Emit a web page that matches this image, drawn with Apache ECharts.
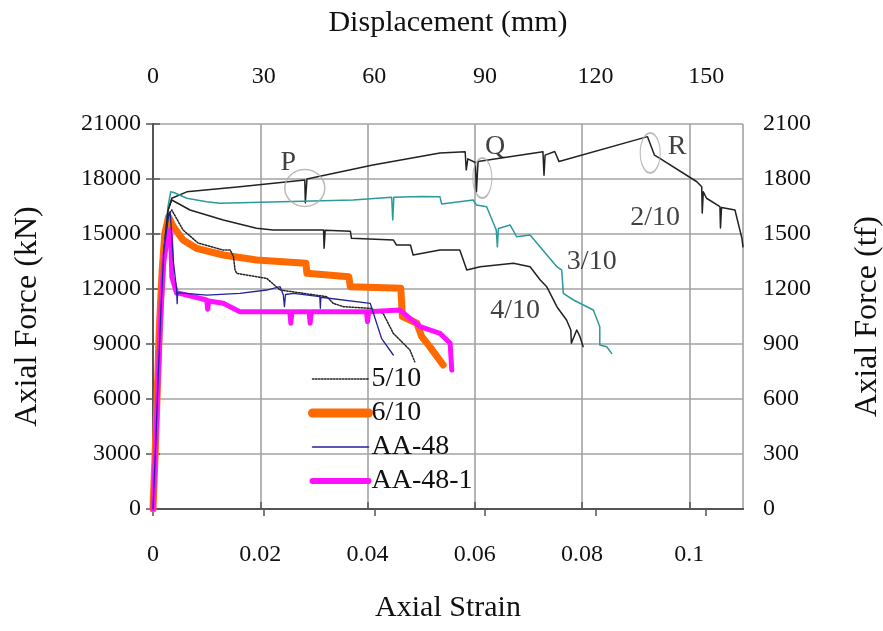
<!DOCTYPE html>
<html>
<head>
<meta charset="utf-8">
<script src="https://cdn.jsdelivr.net/npm/echarts@6/dist/echarts.min.js"></script>
<style>
  html, body { margin: 0; padding: 0; background: #fff; }
  #chart { width: 883px; height: 631px; }
</style>
</head>
<body>
<div id="chart"></div>
<script>
// Axial force vs. axial strain for columns under different axial load ratios
const FONT = 'Liberation Serif';

// ---- 2/10 ----
const strain2_10 = [0, 0.0005, 0.001, 0.0015, 0.002, 0.0028, 0.0035, 0.0063, 0.0162, 0.0283, 0.0284, 0.0286, 0.0287,
  0.041, 0.0535, 0.0582, 0.0584, 0.0587, 0.0601, 0.0603, 0.0606, 0.0727, 0.0729, 0.0731, 0.0749, 0.0757,
  0.0922, 0.0935, 0.0945, 0.1014, 0.1023, 0.1024, 0.1026, 0.1032, 0.1057, 0.1058, 0.1060, 0.1085, 0.1098, 0.11];
const force2_10 = [0, 3500, 7500, 11000, 14000, 16300, 16950, 17300, 17580, 17950, 16700, 16700, 18000,
  18760, 19420, 19490, 18500, 19100, 18900, 17300, 18950, 19490, 18200, 19300, 19500, 18950,
  20310, 19300, 19130, 17850, 17580, 16140, 17300, 16950, 16490, 15330, 16450, 16310, 14765, 14300];

// ---- 3/10 ----
const strain3_10 = [0, 0.0005, 0.001, 0.0015, 0.002, 0.0028, 0.0033, 0.0040, 0.0063, 0.0100, 0.0125, 0.0373,
  0.0445, 0.0447, 0.0449, 0.0500, 0.0535, 0.0538, 0.0541, 0.0597, 0.0603, 0.0622, 0.0640, 0.0642, 0.0644,
  0.0666, 0.0678, 0.0703, 0.0753, 0.0762, 0.0765, 0.0784, 0.0821, 0.0833, 0.0833, 0.0846, 0.0855];
const force3_10 = [0, 3500, 7500, 11000, 14000, 16500, 17300, 17250, 16950, 16760, 16675, 16855,
  17000, 15765, 17000, 17050, 17035, 16640, 16700, 16855, 16580, 16490, 15220, 14300, 15300,
  15490, 14850, 14945, 13215, 13035, 11765, 11400, 10855, 9945, 8945, 8853, 8490];

// ---- 4/10 ----
const strain4_10 = [0, 0.0005, 0.001, 0.0015, 0.002, 0.0028, 0.0035, 0.0069, 0.0131, 0.0193, 0.0224, 0.0318,
  0.0319, 0.0321, 0.0368, 0.0370, 0.0448, 0.0454, 0.0480, 0.0485, 0.0535, 0.0572, 0.0585, 0.061, 0.0672,
  0.0703, 0.0722, 0.0734, 0.0753, 0.0771, 0.0779, 0.0780, 0.0790, 0.0796, 0.0802];
const force4_10 = [0, 3500, 7500, 11000, 14000, 16300, 16855, 16310, 15765, 15310, 15220, 15220,
  14220, 15200, 15150, 14765, 14675, 14400, 14400, 13855, 14130, 14130, 13035, 13215, 13400,
  13215, 12490, 12125, 11035, 10310, 9765, 9040, 9765, 9400, 8855];

// ---- 5/10 ----
const strain5_10 = [0, 0.0005, 0.001, 0.0015, 0.002, 0.0028, 0.0035, 0.0056, 0.0084, 0.013, 0.0144, 0.015,
  0.0153, 0.0156, 0.0212, 0.0237, 0.0324, 0.0336, 0.0355, 0.0405, 0.0429, 0.0448, 0.0479, 0.0488];
const force5_10 = [0, 3500, 7500, 11000, 14000, 16000, 16310, 15220, 14510, 14130, 14130, 13765,
  13035, 12855, 12580, 11945, 11580, 11220, 11035, 10945, 10675, 9580, 8673, 8035];

// ---- 6/10 ----
const strain6_10 = [0, 0.0004, 0.0008, 0.0012, 0.0017, 0.0022, 0.0029, 0.0038, 0.0056, 0.0081, 0.0131, 0.0193,
  0.0285, 0.0287, 0.0365, 0.0368, 0.0462, 0.0465, 0.0492, 0.0501, 0.0516, 0.0541];
const force6_10 = [0, 3000, 6500, 10000, 13000, 15000, 15945, 15400, 14675, 14220, 13855, 13580,
  13400, 12855, 12670, 12125, 12035, 10490, 10130, 9400, 8855, 7855];

// ---- AA-48 ----
const strainAA48 = [0, 0.0005, 0.001, 0.0015, 0.002, 0.0028, 0.0032, 0.0038, 0.0044, 0.0045, 0.0046, 0.01,
  0.0162, 0.0212, 0.0237, 0.0243, 0.0245, 0.0247, 0.0262, 0.0311, 0.0312, 0.0313, 0.0405, 0.0411, 0.0426, 0.0448];
const forceAA48 = [0, 3500, 7500, 11000, 14000, 15800, 16220, 13500, 12000, 11200, 11800, 11670,
  11765, 11945, 12125, 11670, 11035, 11700, 11765, 11580, 10945, 11550, 11220, 10675, 9310, 8400];

// ---- AA-48-1 ----
const strainAA48_1 = [0, 0.0005, 0.001, 0.0015, 0.002, 0.0027, 0.0032, 0.0034, 0.0035, 0.0044, 0.005, 0.01,
  0.0102, 0.0104, 0.0131, 0.0162, 0.0255, 0.0257, 0.0259, 0.0291, 0.0293, 0.0295, 0.0398, 0.0400, 0.0402,
  0.046, 0.0498, 0.0535, 0.0554, 0.0557];
const forceAA48_1 = [0, 3500, 7500, 11000, 13500, 14800, 15220, 14000, 12670, 11765, 11765, 11400,
  10900, 11350, 11220, 10765, 10765, 10130, 10765, 10765, 10130, 10765, 10765, 10220, 10765,
  10855, 9945, 9580, 9040, 7580];

// Text notes on the curves
const noteText = ['P', 'Q', 'R', '2/10', '3/10', '4/10'];
const noteStrain = [0.0252, 0.0638, 0.0977, 0.0936, 0.0818, 0.0675];
const noteForce = [18870, 19745, 19745, 15870, 13470, 10800];

// Marked events (circled)
const eventStrain = [0.0283, 0.0614, 0.0927];
const eventForce = [17510, 18055, 19420];

// Axis settings
const strainTicks = { min: 0, max: 0.11, step: 0.02 };
const dispTicks = { min: 0, max: 160, step: 30 };
const kNTicks = { min: 0, max: 21000, step: 3000 };
const tfTicks = { min: 0, max: 2100, step: 300 };

const zip = (xs, ys) => xs.map((x, i) => [x, ys[i]]);

const labelStyle = { fontFamily: FONT, fontSize: 24, color: '#111' };
const nameStyle = { fontFamily: FONT, fontSize: 30, color: '#111' };
const sideNameStyle = { fontFamily: FONT, fontSize: 32, color: '#111' };
const frameLine = { show: true, lineStyle: { color: '#555', width: 2 } };
const inTicks = { show: true, inside: true, length: 7, lineStyle: { color: '#555', width: 1.5 } };
const gridLine = { show: true, lineStyle: { color: '#a3a3a3', width: 1.6 } };
const plain = v => String(+(+v).toFixed(4));

function lineSeries(name, xs, ys, color, width, type, z) {
  return {
    name, type: 'line', data: zip(xs, ys), symbol: 'none', z: z,
    lineStyle: { color, width, type: type || 'solid', join: 'round', cap: 'round' },
    itemStyle: { color },
    animation: false
  };
}

const chart = echarts.init(document.getElementById('chart'), null, { renderer: 'canvas' });

chart.setOption({
  backgroundColor: '#fff',
  animation: false,
  grid: { left: 153, right: 140, top: 124, bottom: 122, containLabel: false, outerBoundsMode: 'none' },
  xAxis: [
    {
      type: 'value', position: 'bottom',
      min: strainTicks.min, max: strainTicks.max, interval: strainTicks.step,
      name: 'Axial Strain', nameLocation: 'middle', nameGap: 84, nameTextStyle: nameStyle,
      axisLine: frameLine, axisTick: inTicks, splitLine: gridLine,
      axisLabel: { ...labelStyle, margin: 34, showMaxLabel: false, formatter: plain }
    },
    {
      type: 'value', position: 'top',
      min: dispTicks.min, max: dispTicks.max, interval: dispTicks.step,
      name: 'Displacement (mm)', nameLocation: 'middle', nameGap: 86, nameTextStyle: nameStyle,
      axisLine: frameLine, axisTick: inTicks, splitLine: { show: false },
      axisLabel: { ...labelStyle, margin: 35, showMaxLabel: false, formatter: plain }
    }
  ],
  yAxis: [
    {
      type: 'value', position: 'left',
      min: kNTicks.min, max: kNTicks.max, interval: kNTicks.step,
      name: 'Axial Force (kN)', nameLocation: 'middle', nameGap: 109, nameTextStyle: sideNameStyle,
      axisLine: frameLine, axisTick: inTicks, splitLine: gridLine,
      axisLabel: { ...labelStyle, margin: 12, formatter: plain }
    },
    {
      type: 'value', position: 'right',
      min: tfTicks.min, max: tfTicks.max, interval: tfTicks.step,
      name: 'Axial Force (tf)', nameLocation: 'middle', nameGap: 109, nameRotate: 90, nameTextStyle: sideNameStyle,
      axisLine: frameLine, axisTick: inTicks, splitLine: { show: false },
      axisLabel: { ...labelStyle, margin: 20, formatter: plain }
    }
  ],
  legend: {
    data: [
      { name: '5/10', lineStyle: { width: 1.5, type: 'dotted' } },
      { name: '6/10', lineStyle: { width: 9 } },
      { name: 'AA-48', lineStyle: { width: 1.5 } },
      { name: 'AA-48-1', lineStyle: { width: 6 } }
    ],
    orient: 'vertical', left: 308, top: 365, padding: 0,
    itemWidth: 56, itemHeight: 14, itemGap: 6,
    itemStyle: { opacity: 0 },
    textStyle: { fontFamily: FONT, fontSize: 28, color: '#111', lineHeight: 28, padding: [0, 0, 0, -2] },
    inactiveColor: '#ccc'
  },
  series: [
    lineSeries('2/10', strain2_10, force2_10, '#222', 1.5, 'solid', 3),
    lineSeries('3/10', strain3_10, force3_10, '#2a9a9a', 1.5, 'solid', 3),
    lineSeries('4/10', strain4_10, force4_10, '#222', 1.5, 'solid', 3),
    lineSeries('5/10', strain5_10, force5_10, '#222', 1.5, 'dotted', 3),
    lineSeries('6/10', strain6_10, force6_10, '#ff6a00', 7, 'solid', 2),
    lineSeries('AA-48', strainAA48, forceAA48, '#22229a', 1.3, 'solid', 4),
    lineSeries('AA-48-1', strainAA48_1, forceAA48_1, '#ff10ff', 5, 'solid', 3),
    {
      name: 'events', type: 'scatter', z: 5, silent: true,
      data: zip(eventStrain, eventForce),
      symbol: 'circle',
      symbolSize: (v, p) => [[40, 37], [19, 40], [20, 40]][p.dataIndex],
      itemStyle: { color: 'rgba(0,0,0,0)', borderColor: '#aaa', borderWidth: 1.5 }
    },
    {
      name: 'notes', type: 'scatter', z: 6, silent: true,
      data: noteText.map((t, i) => ({ value: [noteStrain[i], noteForce[i]], name: t })),
      symbolSize: 0,
      label: { show: true, position: 'inside', formatter: p => p.name,
        fontFamily: FONT, fontSize: 28, color: '#111' }
    }
  ]
});
</script>
</body>
</html>
